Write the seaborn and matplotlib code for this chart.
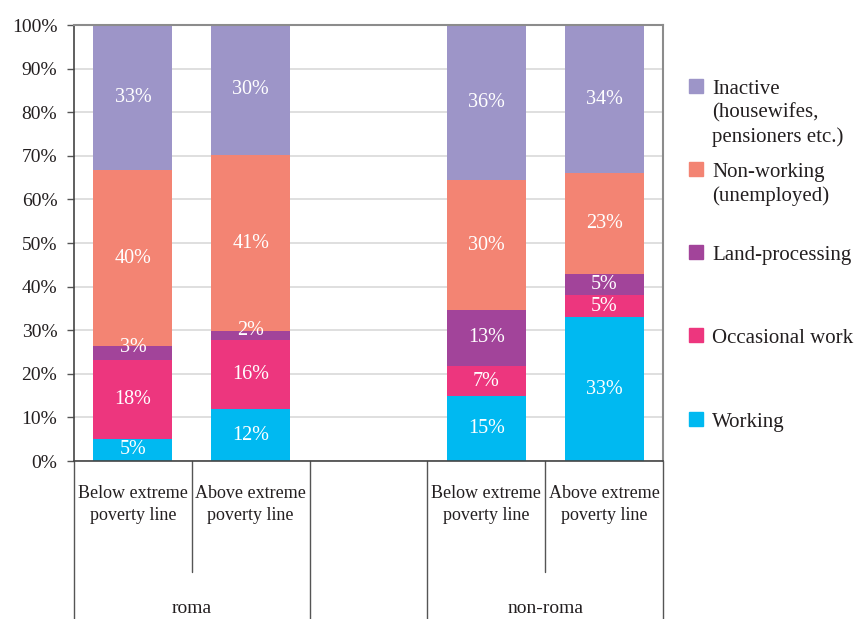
import numpy as np
import pandas as pd
import matplotlib
matplotlib.use("Agg")
import matplotlib.pyplot as plt
import matplotlib.transforms as mtransforms
from matplotlib.patches import Rectangle
import seaborn as sns

# Data (percent, as printed on the bars)
groups = ["Below extreme\npoverty line", "Above extreme\npoverty line", "",
          "Below extreme\npoverty line", "Above extreme\npoverty line"]
slot_ids = ["roma_below", "roma_above", "gap", "nonroma_below", "nonroma_above"]
bar_ids = ["roma_below", "roma_above", "nonroma_below", "nonroma_above"]
populations = ["roma", "non-roma"]

series = ["Working", "Occasional work", "Land-processing",
          "Non-working\n(unemployed)", "Inactive\n(housewifes,\npensioners etc.)"]
working = [5, 12, 15, 33]
occasional = [18, 16, 7, 5]
land = [3, 2, 13, 5]
non_working = [40, 41, 30, 23]
inactive = [33, 30, 36, 34]

colors = ["#00b9f1", "#ed367e", "#a2449a", "#f38473", "#9d95c8"]
text_color = "#231f20"

sns.set_theme(style="white")
plt.rcParams["font.family"] = ["Liberation Serif", "DejaVu Serif"]

values = np.array([working, occasional, land, non_working, inactive], dtype=float)
shares = values / values.sum(axis=0) * 100
cum = np.cumsum(shares, axis=0)

fig = plt.figure(figsize=(8.56, 6.19), dpi=100)
ax = fig.add_axes([74 / 856, 1 - 461 / 619, (663 - 74) / 856, (461 - 25) / 619])

# overlay cumulative bars, top layer first
for i in range(len(series) - 1, -1, -1):
    df = pd.DataFrame({"slot": bar_ids, "top": cum[i]})
    sns.barplot(data=df, x="slot", y="top", order=slot_ids, color=colors[i],
                saturation=1, width=0.67, ax=ax, zorder=2, linewidth=0)

# segment labels
for i in range(len(series)):
    for j, b in enumerate(bar_ids):
        x = slot_ids.index(b)
        y = cum[i, j] - shares[i, j] / 2
        if shares[i, j] < 4:
            y += 1.2
        ax.text(x, y, f"{int(values[i, j])}%", ha="center", va="center",
                color="white", fontsize=14.5, zorder=3)

ax.set_ylim(0, 100)
ax.set_xlim(-0.5, 4.5)
ax.set_yticks(np.arange(0, 101, 10))
ax.set_yticklabels([f"{t}%" for t in range(0, 101, 10)])
ax.yaxis.grid(True, color="#dcdcdc", linewidth=1.3, zorder=0)
ax.set_axisbelow(True)
ax.set_xticks([])
ax.set_xlabel("")
ax.set_ylabel("")
ax.tick_params(axis="y", left=True, length=5, width=1, color="#555555",
               labelsize=14, labelcolor=text_color, pad=7)
for side in ["top", "right"]:
    ax.spines[side].set_color("#8c8c8c")
    ax.spines[side].set_linewidth(1.5)
for side in ["left", "bottom"]:
    ax.spines[side].set_color("#444444")
    ax.spines[side].set_linewidth(1.2)

# category axis: separators and labels
trans = mtransforms.blended_transform_factory(ax.transData, ax.transAxes)
bottom_y = -158 / 436
mid_y = -111 / 436
for xb, y_end in [(-0.5, bottom_y), (0.5, mid_y), (1.5, bottom_y),
                  (2.5, bottom_y), (3.5, mid_y), (4.5, bottom_y)]:
    ax.plot([xb, xb], [0, y_end], transform=trans, color="#555555",
            linewidth=1, clip_on=False)
for k, lab in enumerate(groups):
    if lab:
        ax.text(k, -0.054, lab, transform=trans, ha="center", va="top",
                fontsize=13, color=text_color, linespacing=1.42)
for k, pop in enumerate(populations):
    ax.text(0.5 + 3 * k, -0.338, pop, transform=trans, ha="center",
            va="center", fontsize=14, color=text_color)

# legend
legend_y = [86, 169, 252, 335, 419]
order = [4, 3, 2, 1, 0]
for yy, i in zip(legend_y, order):
    fig.patches.append(Rectangle((689 / 856, 1 - (yy + 7) / 619), 14 / 856, 14 / 619,
                                 transform=fig.transFigure, color=colors[i]))
    fig.text(712 / 856, 1 - (yy - 6) / 619, series[i], ha="left", va="top",
             fontsize=15, color=text_color, linespacing=1.3)

fig.savefig("out.png", dpi=100)
